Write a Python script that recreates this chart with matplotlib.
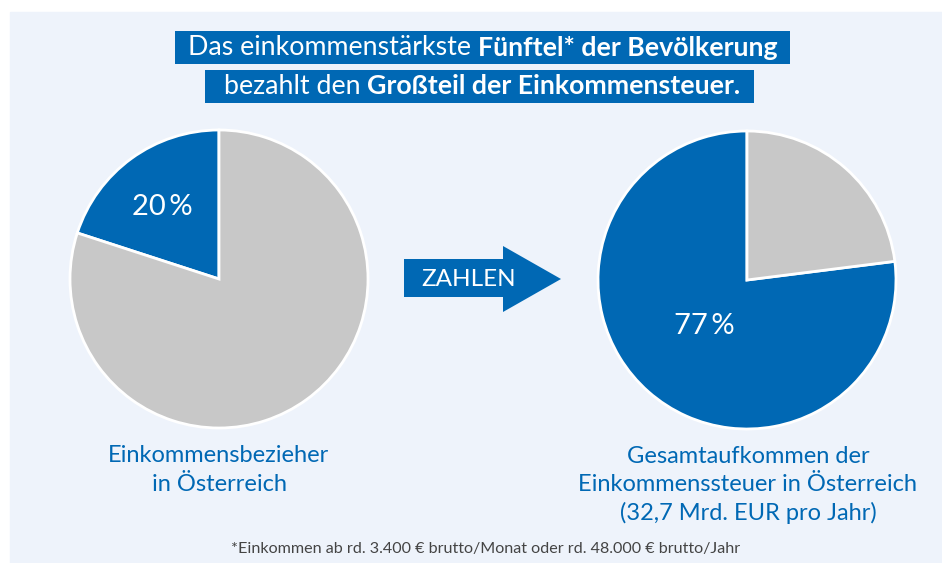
import matplotlib
matplotlib.use("Agg")
import matplotlib.pyplot as plt
from matplotlib.patches import Rectangle, Polygon

W, H = 942, 563

# data
left_labels = ["Top-Fünftel", "Rest"]
left_values = [20, 80]
right_labels = ["Top-Fünftel", "Rest"]
right_values = [77, 23]
left_caption = "Einkommensbezieher\nin Österreich"
right_caption = "Gesamtaufkommen der\nEinkommenssteuer in Österreich\n(32,7 Mrd. EUR pro Jahr)"
footnote = "*Einkommen ab rd. 3.400 € brutto/Monat oder rd. 48.000 € brutto/Jahr"

BLUE = "#0068b4"
GRAY = "#c8c8c8"
BG = "#eef3fb"

plt.rcParams["font.family"] = ["Lato", "DejaVu Sans"]

fig = plt.figure(figsize=(W / 100, H / 100), dpi=100)
ax = fig.add_axes([0, 0, 1, 1])
ax.axis("off")


def Y(y):
    # image row -> data y
    return H - y


# background panel
ax.add_patch(Rectangle((10, 0), W - 10, Y(12), color=BG, zorder=0))

# pies
ax.pie(left_values, colors=[BLUE, GRAY], startangle=90, counterclock=True,
       center=(219, Y(279)), radius=149,
       wedgeprops=dict(edgecolor="white", linewidth=2))
ax.pie(right_values, colors=[BLUE, GRAY], startangle=90, counterclock=True,
       center=(747, Y(280)), radius=149,
       wedgeprops=dict(edgecolor="white", linewidth=2))
ax.set_xlim(0, W)
ax.set_ylim(0, H)
ax.set_aspect("auto")

ax.text(162, Y(207), f"{left_values[0]}\u2009%", color="white", fontsize=21,
        ha="center", va="center")
ax.text(704, Y(326), f"{right_values[0]}\u2009%", color="white", fontsize=21,
        ha="center", va="center")

# arrow
arrow = [(404, Y(259)), (503, Y(259)), (503, Y(246)), (561, Y(279)),
         (503, Y(312)), (503, Y(297)), (404, Y(297))]
ax.add_patch(Polygon(arrow, closed=True, color=BLUE, lw=0))
ax.text(468.5, Y(279), "ZAHLEN", color="white", fontsize=17.5,
        ha="center", va="center")

# captions
ax.text(219, Y(470), left_caption, color=BLUE, fontsize=17, ha="center",
        va="center", linespacing=1.42)
ax.text(748, Y(485), right_caption, color=BLUE, fontsize=17, ha="center",
        va="center", linespacing=1.42)
ax.text(486, Y(549), footnote, color="#444444", fontsize=11.6, ha="center",
        va="center")

# title boxes with mixed weights
ax.add_patch(Rectangle((175, Y(64)), 615, 33, color=BLUE, lw=0))
ax.add_patch(Rectangle((205, Y(103)), 549, 33, color=BLUE, lw=0))

fig.canvas.draw()
renderer = fig.canvas.get_renderer()


def two_part(light, bold, xc, y, size):
    t1 = ax.text(0, Y(y), light + " ", color="white", fontsize=size,
                 fontweight="normal", ha="left", va="center")
    t2 = ax.text(0, Y(y), bold, color="white", fontsize=size,
                 fontweight="bold", ha="left", va="center")
    w1 = t1.get_window_extent(renderer).width
    w2 = t2.get_window_extent(renderer).width
    x0 = xc - (w1 + w2) / 2
    t1.set_x(x0)
    t2.set_x(x0 + w1)


two_part("Das einkommenstärkste", "Fünftel* der Bevölkerung", 482.5, 47.5, 19.3)
two_part("bezahlt den", "Großteil der Einkommensteuer.", 482, 86.5, 19.3)

fig.savefig("out.png", dpi=100, facecolor="white")
